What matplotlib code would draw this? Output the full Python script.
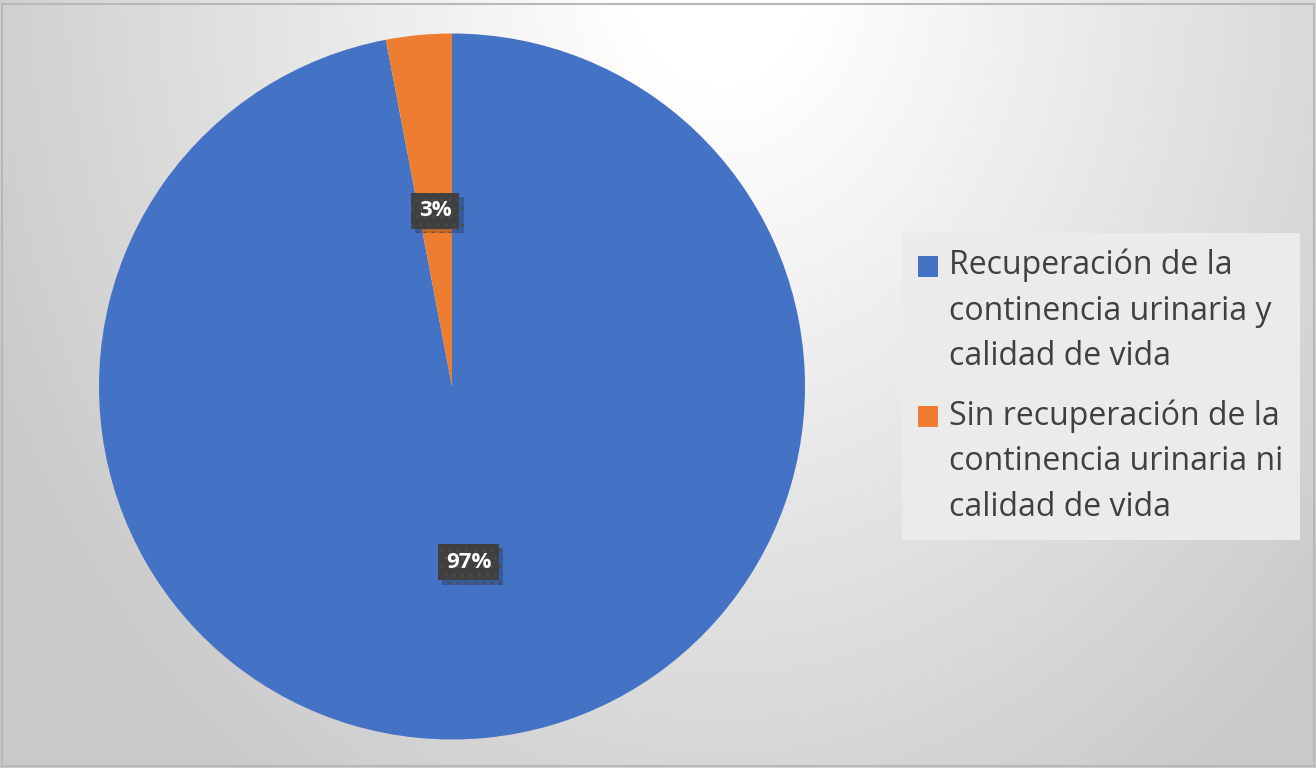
import numpy as np
import matplotlib
matplotlib.use("Agg")
import matplotlib.pyplot as plt
import matplotlib.patheffects as pe
from matplotlib.patches import Rectangle

categories = [
    "Recuperación de la\ncontinencia urinaria y\ncalidad de vida",
    "Sin recuperación de la\ncontinencia urinaria ni\ncalidad de vida",
]
values = [97, 3]
colors = ["#4472C4", "#ED7D31"]

W, H, DPI = 1316, 768, 100
fig = plt.figure(figsize=(W / DPI, H / DPI), dpi=DPI)

# Soft radial background, brightest near the top
bg = fig.add_axes([0, 0, 1, 1], zorder=-10)
yy, xx = np.mgrid[0:H, 0:W]
d = np.sqrt((xx - 720.0) ** 2 + (0.8 * (yy + 30.0)) ** 2)
shade = np.clip(262 - 0.075 * d, 201, 255) / 255.0
bg.imshow(np.dstack([shade] * 3), extent=[0, W, H, 0], aspect="auto",
          interpolation="bilinear")
bg.set_xlim(0, W)
bg.set_ylim(H, 0)
bg.axis("off")
bg.add_patch(Rectangle((1.5, 3.5), W - 4, H - 6, fill=False,
                       ec="#b8b8b8", lw=1.5))

# Pie
cx, cy, r = 452, 386.5, 353
ax = fig.add_axes([(cx - r) / W, (H - cy - r) / H, 2 * r / W, 2 * r / H])
ax.set_facecolor("none")
wedges, _ = ax.pie(values, colors=colors, startangle=90, counterclock=False,
                   radius=1.0, wedgeprops=dict(linewidth=0))
ax.set_xlim(-1, 1)
ax.set_ylim(-1, 1)
ax.set_aspect("equal")
ax.axis("off")

# Percentage labels on dark boxes
total = float(sum(values))
angle = 90.0
for v in values:
    theta = np.deg2rad(angle - 360.0 * v / total / 2)
    angle -= 360.0 * v / total
    x, y = 0.5 * np.cos(theta), 0.5 * np.sin(theta)
    t = ax.text(x, y, f"{v / total * 100:.0f}%", ha="center", va="center",
                fontsize=16, fontweight="bold", family="Open Sans",
                color="white",
                bbox=dict(boxstyle="square,pad=0.35", fc="#404040",
                          ec="#4c4c4c", lw=0, hatch=".."))
    t.get_bbox_patch().set_path_effects([
        pe.SimplePatchShadow(offset=(3, -3), shadow_rgbFace="black",
                             alpha=0.2),
        pe.Normal()])

# Legend
fs = 23
leg = fig.legend(wedges, categories, loc="upper left",
                 bbox_to_anchor=(902 / W, 1 - 233 / H),
                 frameon=True, fancybox=False, framealpha=1.0,
                 facecolor="#ebebeb", edgecolor="none",
                 prop=dict(family="Open Sans", size=fs),
                 labelcolor="#404040", handlelength=0.62, handleheight=0.62,
                 handletextpad=0.36, labelspacing=0.8, borderpad=0.5,
                 borderaxespad=0)
for t in leg.get_texts():
    t.set_linespacing(1.5)
# Put each colour square beside the first line of its label
for col in leg._legend_handle_box.get_children():
    for row in col.get_children():
        row.align = "top"
for h in leg.legend_handles:
    h.set_y(h.get_y() - 0.22 * fs)

fig.savefig("out.png", dpi=DPI)
